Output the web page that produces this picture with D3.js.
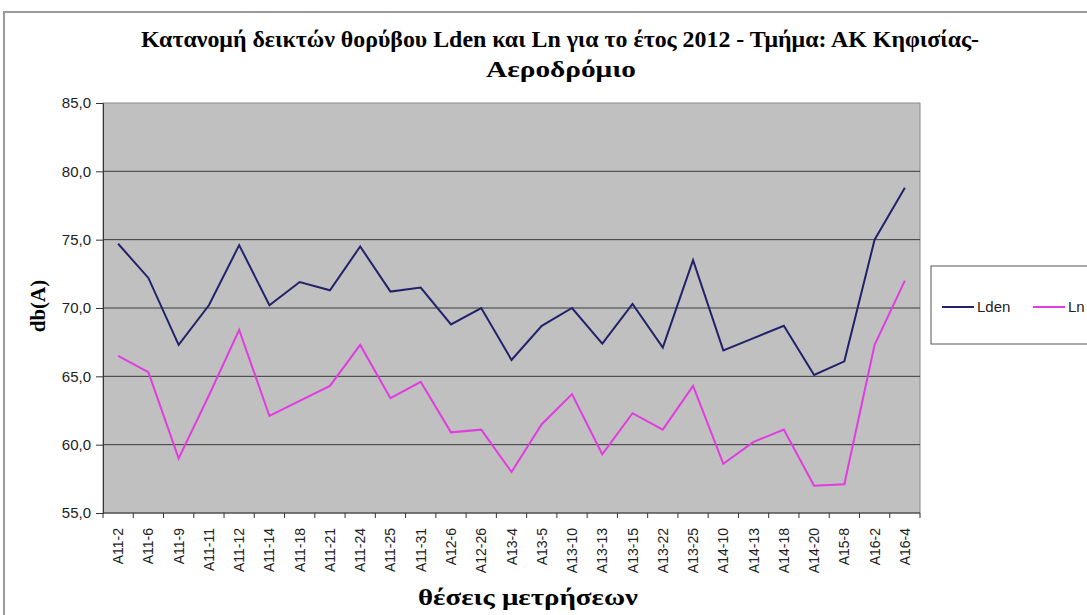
<!DOCTYPE html>
<html>
<head>
<meta charset="utf-8">
<script src="https://cdn.jsdelivr.net/npm/d3@7"></script>
<style>
  html, body { margin: 0; padding: 0; background: #fff; }
  svg { display: block; }
</style>
</head>
<body>
<svg id="chart" width="1087" height="615"></svg>
<script>
// Measurement positions along the section
const categories = ["A11-2","A11-6","A11-9","A11-11","A11-12","A11-14","A11-18","A11-21","A11-24","A11-25","A11-31","A12-6","A12-26","A13-4","A13-5","A13-10","A13-13","A13-15","A13-22","A13-25","A14-10","A14-13","A14-18","A14-20","A15-8","A16-2","A16-4"];

// Noise indicators in dB(A)
const lden = [74.7,72.2,67.3,70.2,74.6,70.2,71.9,71.3,74.5,71.2,71.5,68.8,70.0,66.2,68.7,70.0,67.4,70.3,67.1,73.5,66.9,67.8,68.7,65.1,66.1,75.0,78.8];
const ln   = [66.5,65.3,59.0,63.6,68.4,62.1,63.2,64.3,67.3,63.4,64.6,60.9,61.1,58.0,61.5,63.7,59.3,62.3,61.1,64.3,58.6,60.2,61.1,57.0,57.1,67.3,72.0];

const yTicks = [55, 60, 65, 70, 75, 80, 85];

const seriesList = [
  { name: "Lden", values: lden, color: "#22226a" },
  { name: "Ln",   values: ln,   color: "#e03ce0" }
];

const svg = d3.select("#chart");
const plot = { left: 103, top: 103, right: 920, bottom: 513 };

// outer chart frame
svg.append("rect")
  .attr("x", 4).attr("y", 12).attr("width", 1100).attr("height", 620)
  .attr("fill", "none").attr("stroke", "#9a9a9a").attr("stroke-width", 2);

const x = d3.scaleBand().domain(categories).range([plot.left, plot.right]).padding(0);
const y = d3.scaleLinear().domain([55, 85]).range([plot.bottom, plot.top]);

// plot background
svg.append("rect")
  .attr("x", plot.left).attr("y", plot.top)
  .attr("width", plot.right - plot.left).attr("height", plot.bottom - plot.top)
  .attr("fill", "#c0c0c0").attr("stroke", "#8a8a8a").attr("stroke-width", 1);

// horizontal gridlines
svg.append("g").selectAll("line")
  .data(yTicks.filter(t => t > 55 && t < 85))
  .join("line")
  .attr("x1", plot.left).attr("x2", plot.right)
  .attr("y1", d => y(d)).attr("y2", d => y(d))
  .attr("stroke", "#3a3a3a").attr("stroke-width", 1);

// y axis
const yAxis = d3.axisLeft(y).tickValues(yTicks)
  .tickFormat(d => d3.format(".1f")(d).replace(".", ","))
  .tickSize(7).tickPadding(5);
const gy = svg.append("g").attr("transform", `translate(${plot.left},0)`).call(yAxis);
gy.select(".domain").attr("stroke", "#333");
gy.selectAll(".tick line").attr("stroke", "#333");
gy.selectAll("text")
  .attr("font-family", "Liberation Sans, Arial, sans-serif")
  .attr("font-size", 15).attr("fill", "#222");

// x axis: ticks at category boundaries, labels rotated
const gx = svg.append("g").attr("transform", `translate(0,${plot.bottom})`);
gx.append("line").attr("x1", plot.left).attr("x2", plot.right)
  .attr("stroke", "#333");
const boundaries = categories.map(c => x(c)).concat([plot.right]);
gx.selectAll("line.tk").data(boundaries).join("line").attr("class", "tk")
  .attr("x1", d => d).attr("x2", d => d).attr("y1", 0).attr("y2", 5)
  .attr("stroke", "#333");
gx.selectAll("text").data(categories).join("text")
  .attr("transform", d => `translate(${x(d) + x.bandwidth() / 2 + 5},${15}) rotate(-90)`)
  .attr("text-anchor", "end")
  .attr("font-family", "Liberation Sans, Arial, sans-serif")
  .attr("font-size", 14).attr("fill", "#222")
  .text(d => d);

// series lines
const line = d3.line()
  .x((d, i) => x(categories[i]) + x.bandwidth() / 2)
  .y(d => y(d));
svg.append("g").selectAll("path").data(seriesList).join("path")
  .attr("d", s => line(s.values))
  .attr("fill", "none")
  .attr("stroke", s => s.color)
  .attr("stroke-width", 2)
  .attr("stroke-linejoin", "miter");

// titles
const serif = "Liberation Serif, Times New Roman, serif";
svg.append("text")
  .attr("x", 560).attr("y", 47)
  .attr("text-anchor", "middle")
  .attr("font-family", serif).attr("font-weight", "bold").attr("font-size", 23)
  .attr("textLength", 838).attr("lengthAdjust", "spacingAndGlyphs")
  .text("Κατανομή δεικτών θορύβου Lden και Ln για το έτος 2012 - Τμήμα: ΑΚ Κηφισίας-");
svg.append("text")
  .attr("x", 561).attr("y", 77)
  .attr("text-anchor", "middle")
  .attr("font-family", serif).attr("font-weight", "bold").attr("font-size", 23)
  .attr("textLength", 150).attr("lengthAdjust", "spacingAndGlyphs")
  .text("Αεροδρόμιο");

svg.append("text")
  .attr("transform", "translate(45,306) rotate(-90)")
  .attr("text-anchor", "middle")
  .attr("font-family", serif).attr("font-weight", "bold").attr("font-size", 21)
  .text("db(A)");

svg.append("text")
  .attr("x", 528).attr("y", 605)
  .attr("text-anchor", "middle")
  .attr("font-family", serif).attr("font-weight", "bold").attr("font-size", 23)
  .attr("textLength", 220).attr("lengthAdjust", "spacingAndGlyphs")
  .text("θέσεις μετρήσεων");

// legend
const legend = svg.append("g");
legend.append("rect")
  .attr("x", 931).attr("y", 266).attr("width", 200).attr("height", 78)
  .attr("fill", "#fff").attr("stroke", "#555").attr("stroke-width", 1);
const legendItems = [
  { s: seriesList[0], x0: 942 },
  { s: seriesList[1], x0: 1033 }
];
legendItems.forEach(it => {
  legend.append("line")
    .attr("x1", it.x0).attr("x2", it.x0 + 32)
    .attr("y1", 307).attr("y2", 307)
    .attr("stroke", it.s.color).attr("stroke-width", 2);
  legend.append("text")
    .attr("x", it.x0 + 35).attr("y", 312)
    .attr("font-family", "Liberation Sans, Arial, sans-serif")
    .attr("font-size", 15).attr("fill", "#222")
    .text(it.s.name);
});
</script>
</body>
</html>
